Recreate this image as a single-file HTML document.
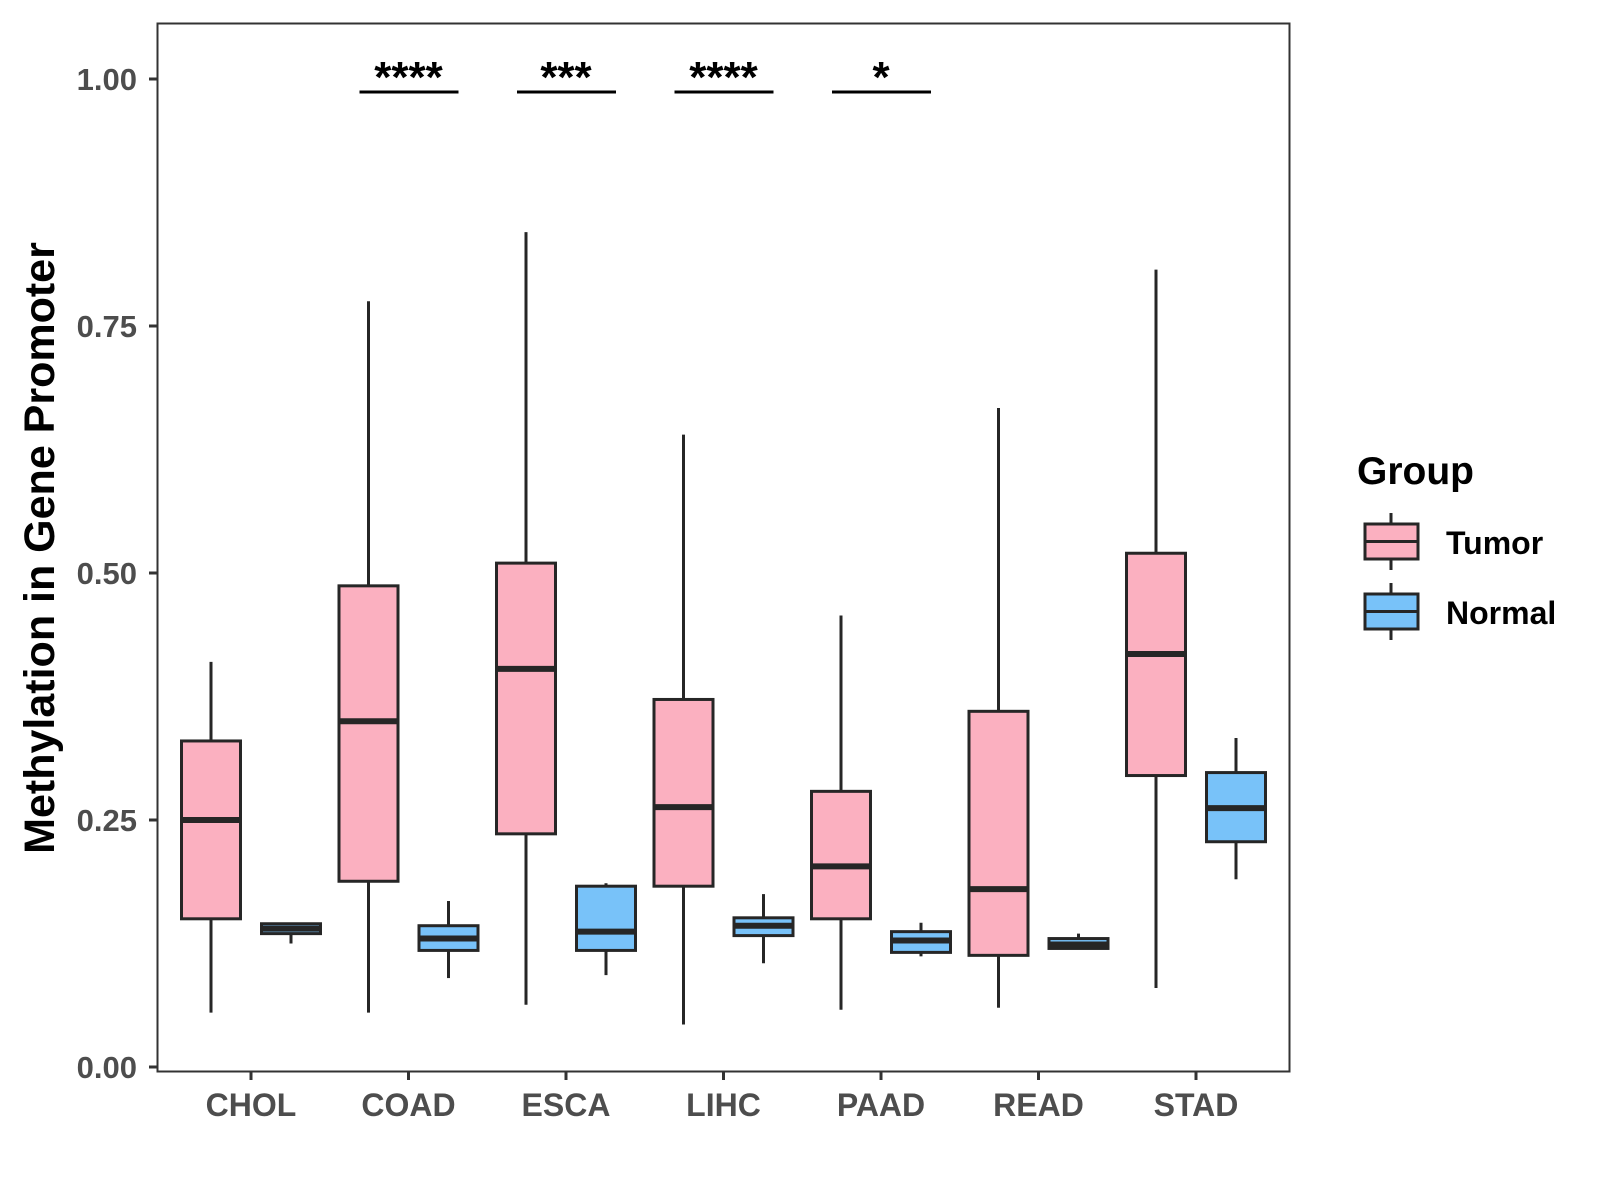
<!DOCTYPE html>
<html><head><meta charset="utf-8"><style>
html,body{margin:0;padding:0;background:#fff;}
svg{display:block;font-family:"Liberation Sans",Arial,sans-serif;}
</style></head><body>
<svg id="chart" width="1600" height="1200" viewBox="0 0 1600 1200" xmlns="http://www.w3.org/2000/svg">
<rect x="157.5" y="23.5" width="1132" height="1048" fill="#fff" stroke="#333" stroke-width="2"/>
<g id="marks"></g>
<text transform="translate(54,548) rotate(-90)" text-anchor="middle" font-size="43" font-weight="bold" fill="#000">Methylation in Gene Promoter</text>
<g>
<text x="1357" y="484" font-size="39" font-weight="bold" fill="#000">Group</text>
<line x1="1391" y1="513" x2="1391" y2="570" stroke="#262626" stroke-width="3"/>
<rect x="1365" y="524" width="53" height="35" fill="#FBB0C0" stroke="#262626" stroke-width="3"/>
<line x1="1365" y1="541.5" x2="1418" y2="541.5" stroke="#262626" stroke-width="3"/>
<text x="1446" y="554" font-size="32" font-weight="bold" fill="#000">Tumor</text>
<line x1="1391" y1="583" x2="1391" y2="640" stroke="#262626" stroke-width="3"/>
<rect x="1365" y="594" width="53" height="35" fill="#78C2F9" stroke="#262626" stroke-width="3"/>
<line x1="1365" y1="611.5" x2="1418" y2="611.5" stroke="#262626" stroke-width="3"/>
<text x="1446" y="624" font-size="32" font-weight="bold" fill="#000">Normal</text>
</g>
</svg>
<script>
const categories = ["CHOL","COAD","ESCA","LIHC","PAAD","READ","STAD"];
// [lowerWhisker, q1, median, q3, upperWhisker]
const tumorStats = [
 [0.055,0.15,0.25,0.33,0.41],
 [0.055,0.188,0.35,0.487,0.775],
 [0.063,0.236,0.403,0.51,0.845],
 [0.043,0.183,0.263,0.372,0.64],
 [0.058,0.15,0.203,0.279,0.457],
 [0.06,0.113,0.18,0.36,0.667],
 [0.08,0.295,0.418,0.52,0.807]
];
const normalStats = [
 [0.125,0.135,0.14,0.145,0.145],
 [0.09,0.118,0.13,0.143,0.168],
 [0.093,0.118,0.137,0.183,0.186],
 [0.105,0.133,0.143,0.151,0.175],
 [0.112,0.116,0.128,0.137,0.146],
 [0.12,0.12,0.124,0.13,0.135],
 [0.19,0.228,0.262,0.298,0.333]
];
const yTicks = [0,0.25,0.5,0.75,1];
const yTickLabels = ["0.00","0.25","0.50","0.75","1.00"];
const sigLabels = ["","****","***","****","*","",""];

const NS="http://www.w3.org/2000/svg";
const g=document.getElementById('marks');
function yS(v){return 1067-v*988;}
function xS(i){return 251+i*157.5;}
function mk(tag,attrs,parent){const e=document.createElementNS(NS,tag);for(const k in attrs)e.setAttribute(k,attrs[k]);(parent||g).appendChild(e);return e;}

yTicks.forEach((t,i)=>{
  const y=yS(t);
  const tk=mk('line',{x1:149,x2:157,y1:y,y2:y,stroke:'#333','stroke-width':3});
  
  
  const tx=mk('text',{x:137,y:y+11,'text-anchor':'end','font-size':31,'font-weight':'bold',fill:'#4d4d4d'});
  tx.textContent=yTickLabels[i];
  
  
});
categories.forEach((c,i)=>{
  const x=xS(i);
  const tk=mk('line',{x1:x,x2:x,y1:1072,y2:1080,stroke:'#333','stroke-width':3});
  
  
  const tx=mk('text',{x:x,y:1116,'text-anchor':'middle','font-size':32,'font-weight':'bold',fill:'#4d4d4d'});
  tx.textContent=c;
  
  
});
function box(cx,s,fill,name){
  const grp=mk('g',{});
  
  
  const hw=29.5;
  mk('line',{x1:cx,x2:cx,y1:yS(s[4]),y2:yS(s[3]),stroke:'#262626','stroke-width':3},grp);
  mk('line',{x1:cx,x2:cx,y1:yS(s[1]),y2:yS(s[0]),stroke:'#262626','stroke-width':3},grp);
  mk('rect',{x:cx-hw,y:yS(s[3]),width:2*hw,height:Math.max(yS(s[1])-yS(s[3]),1),fill:fill,stroke:'#262626','stroke-width':3},grp);
  mk('line',{x1:cx-hw,x2:cx+hw,y1:yS(s[2]),y2:yS(s[2]),stroke:'#262626','stroke-width':6},grp);
}
categories.forEach((c,i)=>{
  box(xS(i)-40,tumorStats[i],'#FBB0C0','box-tumor-'+c.toLowerCase());
  box(xS(i)+40,normalStats[i],'#78C2F9','box-normal-'+c.toLowerCase());
  if(sigLabels[i]){
    const x=xS(i);
    const l=mk('line',{x1:x-49,x2:x+50,y1:92,y2:92,stroke:'#000','stroke-width':3});
    
    
    const t=mk('text',{x:x,y:92,'text-anchor':'middle','font-size':44,'font-weight':'bold',fill:'#000'});
    t.textContent=sigLabels[i];
    
    
  }
});
</script>
</body></html>
